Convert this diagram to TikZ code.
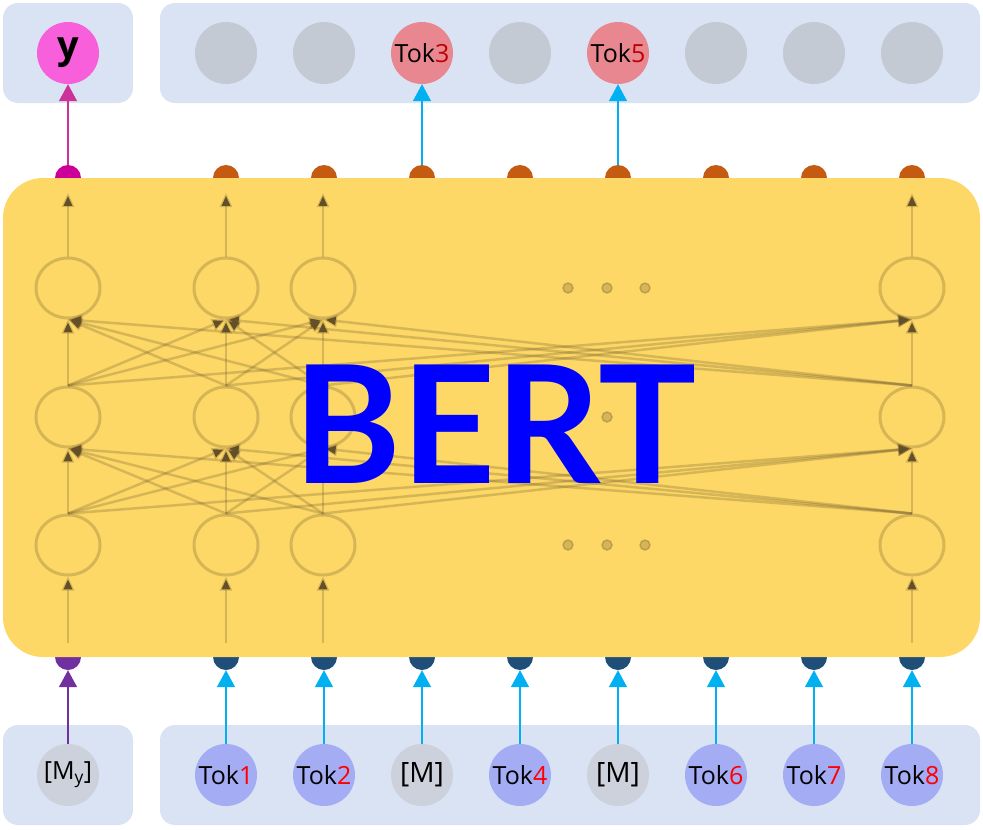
\documentclass[tikz,border=0pt]{standalone}
\usepackage{fontspec}
\newfontfamily\tokfont{Open Sans}
\newfontfamily\bertfont{Lato}
\usetikzlibrary{arrows.meta,positioning,shapes.geometric}

\definecolor{panelc}{HTML}{DAE3F3}
\definecolor{bertbg}{HTML}{FDD866}
\definecolor{tokblue}{HTML}{A4ACF4}
\definecolor{maskgray}{HTML}{CDD1DB}
\definecolor{outgray}{HTML}{C4CAD4}
\definecolor{outred}{HTML}{E8878F}
\definecolor{ypink}{HTML}{F75FDB}
\definecolor{dotorange}{HTML}{C55A11}
\definecolor{dotblue}{HTML}{1F4E79}
\definecolor{dotpurple}{HTML}{7030A0}
\definecolor{dotmag}{HTML}{CC0099}
\definecolor{linkblue}{HTML}{00B0F0}
\definecolor{linkmag}{HTML}{CC3399}
\definecolor{netc}{RGB}{100,80,40}

\newcommand{\tk}[2]{Tok\textcolor{#1}{#2}}

\begin{document}
\begin{tikzpicture}[x=1pt, y=-1pt,
        panel/.style={fill=panelc, rounded corners=15pt},
        tok/.style={circle, minimum size=62pt, inner sep=0pt, font=\tokfont\fontsize{25}{25}\selectfont},
        port/.style={circle, minimum size=26pt, inner sep=0pt},
        link/.style={line width=1.5pt, -{Triangle[length=17pt, width=18pt]}},
        neuron/.style={ellipse, draw=netc, draw opacity=0.25, line width=3pt, minimum width=64pt, minimum height=60pt},
        wire/.style={draw=netc, draw opacity=0.25, line width=2.5pt, -{Triangle[length=14pt, width=12pt]}}
    ]
    \useasboundingbox (0,0) rectangle (983,830);

    % ports above and below the encoder (half hidden by it)
    \node[port, fill=dotmag] (o0) at (68,178) {};
    \node[port, fill=dotpurple] (i0) at (68,657) {};
    \foreach \k in {1,...,8} {
        \node[port, fill=dotorange] (o\k) at ({226+98*(\k-1)},178) {};
        \node[port, fill=dotblue] (i\k) at ({226+98*(\k-1)},657) {};
    }

    % panels
    \fill[panel] (3,3) rectangle (133,103);
    \fill[panel] (160,3) rectangle (980,103);
    \fill[panel] (3,725) rectangle (133,825);
    \fill[panel] (160,725) rectangle (980,825);
    \fill[bertbg, rounded corners=40pt] (3,178) rectangle (980,657);

    % outputs
    \node[tok, fill=ypink, font=\tokfont\bfseries\fontsize{38}{38}\selectfont] (t0) at (68,53) {y};
    \foreach \k/\c in {1/outgray,2/outgray,4/outgray,6/outgray,7/outgray,8/outgray} {
        \node[tok, fill=\c] (t\k) at ({226+98*(\k-1)},53) {};
    }
    \node[tok, fill=outred] (t3) at (422,53) {\tk{red!75!black}{3}};
    \node[tok, fill=outred] (t5) at (618,53) {\tk{red!75!black}{5}};

    % inputs
    \node[tok, fill=maskgray] (b0) at (68,775) {[M\textsubscript{y}]};
    \node[tok, fill=tokblue] (b1) at (226,775) {\tk{red}{1}};
    \node[tok, fill=tokblue] (b2) at (324,775) {\tk{red}{2}};
    \node[tok, fill=maskgray, font=\tokfont\fontsize{28}{28}\selectfont] (b3) at (422,775) {[M]};
    \node[tok, fill=tokblue] (b4) at (520,775) {\tk{red}{4}};
    \node[tok, fill=maskgray, font=\tokfont\fontsize{28}{28}\selectfont] (b5) at (618,775) {[M]};
    \node[tok, fill=tokblue] (b6) at (716,775) {\tk{red}{6}};
    \node[tok, fill=tokblue] (b7) at (814,775) {\tk{red}{7}};
    \node[tok, fill=tokblue] (b8) at (912,775) {\tk{red}{8}};

    % links into and out of the encoder
    \draw[link, linkmag] (o0.north) -- (t0.south);
    \draw[link, linkblue] (o3.north) -- (t3.south);
    \draw[link, linkblue] (o5.north) -- (t5.south);
    \draw[link, dotpurple] (b0.north) -- (i0.south);
    \foreach \k in {1,...,8} {
        \draw[link, linkblue] (b\k.north) -- (i\k.south);
    }

    % the network inside the encoder
    \foreach \c/\x in {a/68,b/226,c/323,d/912} {
        \node[neuron] (n1\c) at (\x,288) {};
        \node[neuron] (n2\c) at (\x,417) {};
        \node[neuron] (n3\c) at (\x,545) {};
        \coordinate (in\c) at (\x,643);
        \coordinate (out\c) at (\x,193);
        \draw[wire] (in\c) -- (n3\c.south);
        \draw[wire] (n1\c.north) -- (out\c);
    }
    \foreach \c in {a,b,c,d} {
        \foreach \d in {a,b,c,d} {
            \draw[wire] (n3\c.north) -- (n2\d.south);
            \draw[wire] (n2\c.north) -- (n1\d.south);
        }
    }
    \foreach \y in {288,417,545} {
        \foreach \x in {568,607,645} {
            \node[circle, inner sep=0pt, minimum size=10pt, draw=netc, draw opacity=0.3, fill=netc, fill opacity=0.25, line width=1.5pt] (dot\x\y) at (\x,\y) {};
        }
    }

    \node[text=blue, font=\bertfont\bfseries\fontsize{164}{164}\selectfont] (bert) at (495,424) {BERT};
\end{tikzpicture}
\end{document}
